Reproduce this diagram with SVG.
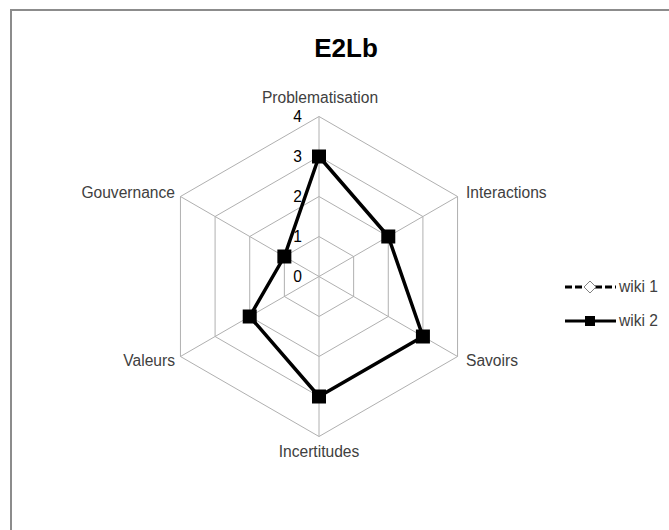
<svg xmlns="http://www.w3.org/2000/svg" width="669" height="530" viewBox="0 0 669 530">
<style>
.lbl{font-family:"Liberation Sans",Arial,sans-serif;font-size:15.6px;fill:#404040}
.ax{font-family:"Liberation Sans",Arial,sans-serif;font-size:15.6px;fill:#000}
.ttl{font-family:"Liberation Sans",Arial,sans-serif;font-size:26px;font-weight:bold;fill:#000}
.grid{fill:none;stroke:#B0B0B0;stroke-width:1}
.s2{fill:none;stroke:#000;stroke-width:3.5;stroke-linejoin:round}
.mk{fill:#000}
</style>
<defs>
<rect id="sq" x="-7" y="-7" width="14" height="14" class="mk"/>
</defs>
<rect x="0" y="0" width="669" height="530" fill="#fff"/>
<rect x="11" y="10" width="720" height="600" fill="none" stroke="#8C8C8C" stroke-width="2"/>
<g id="title"><text class="ttl" x="346" y="57" text-anchor="middle">E2Lb</text></g>
<g id="grid">
<polygon class="grid" points="319,236.5 353.64,256.5 353.64,296.5 319,316.5 284.36,296.5 284.36,256.5"/>
<polygon class="grid" points="319,196.5 388.28,236.5 388.28,316.5 319,356.5 249.72,316.5 249.72,236.5"/>
<polygon class="grid" points="319,156.5 422.92,216.5 422.92,336.5 319,396.5 215.08,336.5 215.08,216.5"/>
<polygon class="grid" points="319,116.5 457.56,196.5 457.56,356.5 319,436.5 180.44,356.5 180.44,196.5"/>
<path class="grid" d="M319,276.5L319,116.5M319,276.5L457.56,196.5M319,276.5L457.56,356.5M319,276.5L319,436.5M319,276.5L180.44,356.5M319,276.5L180.44,196.5"/>
</g>
<g id="axis-labels">
<text class="ax" x="302" y="281.5" text-anchor="end">0</text>
<text class="ax" x="302" y="241.5" text-anchor="end">1</text>
<text class="ax" x="302" y="201.5" text-anchor="end">2</text>
<text class="ax" x="302" y="161.5" text-anchor="end">3</text>
<text class="ax" x="302" y="121.5" text-anchor="end">4</text>
</g>
<g id="cat-labels">
<text class="lbl" x="320" y="103" text-anchor="middle">Problematisation</text>
<text class="lbl" x="466" y="198">Interactions</text>
<text class="lbl" x="466" y="366">Savoirs</text>
<text class="lbl" x="319" y="457" text-anchor="middle">Incertitudes</text>
<text class="lbl" x="175" y="366" text-anchor="end">Valeurs</text>
<text class="lbl" x="175" y="198" text-anchor="end">Gouvernance</text>
</g>
<g id="connectors">
<polygon class="s2" points="319,156.5 388.28,236.5 422.92,336.5 319,396.5 249.72,316.5 284.36,256.5"/>
</g>
<g id="markers">
<use href="#sq" x="319" y="156.5"/>
<use href="#sq" x="388.28" y="236.5"/>
<use href="#sq" x="422.92" y="336.5"/>
<use href="#sq" x="319" y="396.5"/>
<use href="#sq" x="249.72" y="316.5"/>
<use href="#sq" x="284.36" y="256.5"/>
</g>
<g id="legend">
<g id="legend-wiki1">
<line x1="565" y1="287" x2="616" y2="287" stroke="#000" stroke-width="3" stroke-dasharray="7,3"/>
<polygon points="590,281 596,287 590,293 584,287" fill="#fff" stroke="#808080" stroke-width="1"/>
<text class="lbl" x="619" y="292">wiki 1</text>
</g>
<g id="legend-wiki2">
<line x1="565" y1="321" x2="616" y2="321" stroke="#000" stroke-width="3"/>
<rect x="585" y="316" width="10" height="10" fill="#000"/>
<text class="lbl" x="619" y="326">wiki 2</text>
</g>
</g>
</svg>
